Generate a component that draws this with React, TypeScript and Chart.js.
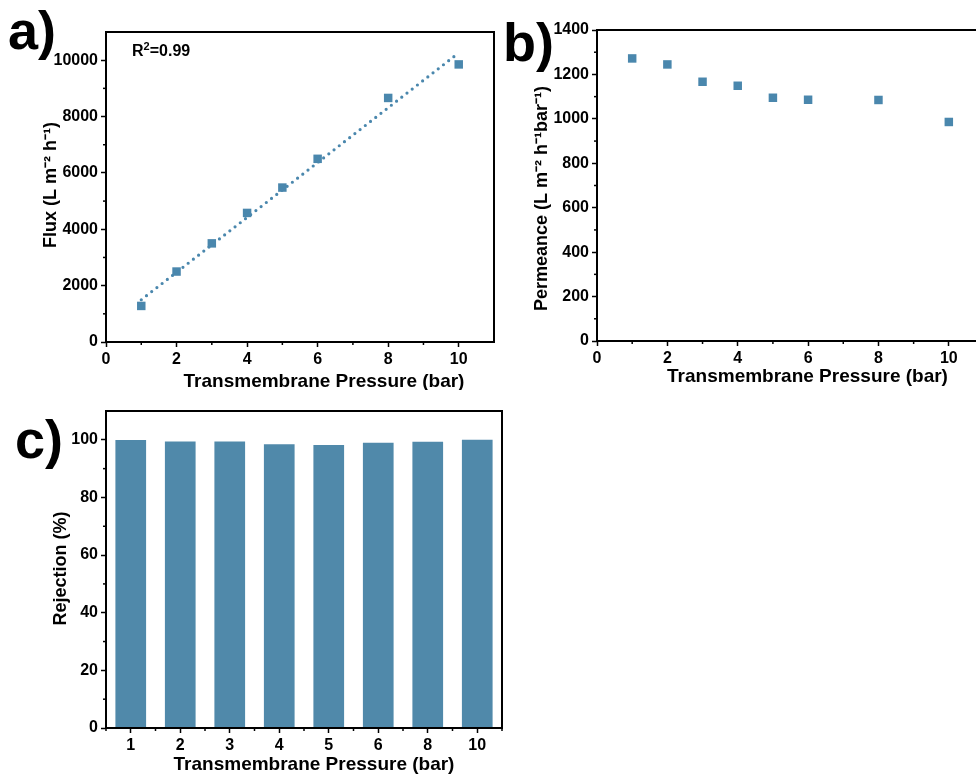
import React, { useEffect, useRef } from "react";
import { Chart, registerables } from "chart.js";

Chart.register(...registerables);

const FONT = "Arial, 'Liberation Sans', Helvetica, sans-serif";

// ---- Panel a: flux vs pressure ----
const pressures = [1, 2, 3, 4, 5, 6, 8, 10];
const fluxValues = [1280, 2500, 3500, 4580, 5480, 6500, 8660, 9850];
const fitPressures = [1, 10];
const fitFluxValues = [1500, 10260];
const fluxTicks = [0, 2000, 4000, 6000, 8000, 10000];
const fluxMinorTicks = [1000, 3000, 5000, 7000, 9000];
const pressureTicks = [0, 2, 4, 6, 8, 10];
const pressureMinorTicks = [1, 3, 5, 7, 9];

// ---- Panel b: permeance vs pressure ----
const permeanceValues = [1272, 1245, 1167, 1149, 1095, 1086, 1085, 986];
const permeanceTicks = [0, 200, 400, 600, 800, 1000, 1200, 1400];
const permeanceMinorTicks = [100, 300, 500, 700, 900, 1100, 1300];

// ---- Panel c: rejection ----
const rejectionLabels = ["1", "2", "3", "4", "5", "6", "8", "10"];
const rejectionValues = [99.9, 99.4, 99.4, 98.5, 98.2, 99.0, 99.3, 100.0];
const rejectionTicks = [0, 20, 40, 60, 80, 100];
const rejectionMinorTicks = [10, 30, 50, 70, 90];

const MARK = "#4a87ad";
const BAR = "#5089aa";
const X_TITLE = "Transmembrane Pressure (bar)";

const framePlugin = {
  id: "frame",
  afterDatasetsDraw(chart: any, _args: any, opts: any) {
    const { ctx, chartArea: ca, scales } = chart;
    ctx.save();
    ctx.strokeStyle = "#000";
    ctx.lineWidth = 2;
    ctx.strokeRect(ca.left, ca.top, ca.right - ca.left, ca.bottom - ca.top);
    ctx.lineWidth = 1.5;
    const seg = (x1: number, y1: number, x2: number, y2: number) => {
      ctx.beginPath();
      ctx.moveTo(x1, y1);
      ctx.lineTo(x2, y2);
      ctx.stroke();
    };
    (opts.yMinor || []).forEach((v: number) => {
      const py = scales.y.getPixelForValue(v);
      seg(ca.left - 3, py, ca.left, py);
    });
    (opts.xMinor || []).forEach((v: number) => {
      const px = scales.x.getPixelForValue(v);
      seg(px, ca.bottom, px, ca.bottom + 3);
    });
    if (opts.xMinorBetween) {
      const n = scales.x.ticks.length;
      for (let i = 0; i <= n; i++) {
        const px = scales.x.getPixelForValue(i - 0.5);
        seg(px, ca.bottom, px, ca.bottom + 3);
      }
    }
    ctx.fillStyle = "#000";
    ctx.textAlign = "center";
    ctx.textBaseline = "middle";
    if (opts.xTitle) {
      ctx.font = `bold 19px ${FONT}`;
      ctx.fillText(opts.xTitle.text, (ca.left + ca.right) / 2 + opts.xTitle.dx, ca.bottom + opts.xTitle.dy);
    }
    if (opts.yTitle) {
      ctx.save();
      ctx.font = `bold 18px ${FONT}`;
      ctx.translate(opts.yTitle.x, (ca.top + ca.bottom) / 2 + opts.yTitle.dy);
      ctx.rotate(-Math.PI / 2);
      ctx.fillText(opts.yTitle.text, 0, 0);
      ctx.restore();
    }
    ctx.restore();
  },
};

const tickFont = { family: FONT, size: 16, weight: "bold" as const };

function grid() {
  return {
    display: true,
    drawOnChartArea: false,
    drawTicks: true,
    tickLength: 5,
    tickWidth: 1.5,
    tickColor: "#000",
  };
}

function fixedTicks(values: number[]) {
  return (s: any) => {
    s.ticks = values.map((v) => ({ value: v }));
  };
}

function yAxis(min: number, max: number, tickValues: number[], width: number) {
  return {
    type: "linear",
    min,
    max,
    grid: grid(),
    border: { display: false },
    ticks: { color: "#000", font: tickFont, padding: 3, callback: (v: any) => String(v) },
    afterBuildTicks: fixedTicks(tickValues),
    afterFit: (s: any) => {
      s.width = width;
    },
  };
}

function xLinear(height: number) {
  return {
    type: "linear",
    min: 0,
    max: 11,
    grid: grid(),
    border: { display: false },
    ticks: { color: "#000", font: tickFont, padding: 3, callback: (v: any) => String(v) },
    afterBuildTicks: fixedTicks(pressureTicks),
    afterFit: (s: any) => {
      s.height = height;
    },
  };
}

function makeA(): any {
  return {
    type: "scatter",
    data: {
      datasets: [
        {
          data: pressures.map((p, i) => ({ x: p, y: fluxValues[i] })),
          pointStyle: "rect",
          pointRadius: 6,
          backgroundColor: MARK,
          borderColor: MARK,
          borderWidth: 0,
          showLine: false,
          order: 1,
        },
        {
          data: fitPressures.map((p, i) => ({ x: p, y: fitFluxValues[i] })),
          showLine: true,
          borderColor: MARK,
          borderWidth: 3.2,
          borderDash: [0, 6.6],
          borderCapStyle: "round",
          pointRadius: 0,
          order: 2,
        },
      ],
    },
    options: {
      responsive: false,
      animation: false,
      devicePixelRatio: 1,
      layout: { padding: { left: 0, top: 32, right: 6, bottom: 0 } },
      plugins: {
        legend: { display: false },
        tooltip: { enabled: false },
        frame: {
          yMinor: fluxMinorTicks,
          xMinor: pressureMinorTicks,
          xTitle: { text: X_TITLE, dx: 24, dy: 40 },
          yTitle: { text: "Flux (L m⁻² h⁻¹)", x: 51.5, dy: -2 },
        },
      },
      scales: {
        x: xLinear(48),
        y: yAxis(0, 11000, fluxTicks, 106),
      },
    },
    plugins: [framePlugin],
  };
}

function makeB(): any {
  return {
    type: "scatter",
    data: {
      datasets: [
        {
          data: pressures.map((p, i) => ({ x: p, y: permeanceValues[i] })),
          pointStyle: "rect",
          pointRadius: 6,
          backgroundColor: MARK,
          borderColor: MARK,
          borderWidth: 0,
          showLine: false,
        },
      ],
    },
    options: {
      responsive: false,
      animation: false,
      devicePixelRatio: 1,
      layout: { padding: { left: 0, top: 30, right: 16, bottom: 0 } },
      plugins: {
        legend: { display: false },
        tooltip: { enabled: false },
        frame: {
          yMinor: permeanceMinorTicks,
          xMinor: pressureMinorTicks,
          xTitle: { text: X_TITLE, dx: 17, dy: 36 },
          yTitle: { text: "Permeance (L m⁻² h⁻¹bar⁻¹)", x: 42, dy: 13 },
        },
      },
      scales: {
        x: xLinear(49),
        y: yAxis(0, 1400, permeanceTicks, 97),
      },
    },
    plugins: [framePlugin],
  };
}

function makeC(): any {
  return {
    type: "bar",
    data: {
      labels: rejectionLabels,
      datasets: [
        {
          data: rejectionValues,
          backgroundColor: BAR,
          borderWidth: 0,
          barPercentage: 0.62,
          categoryPercentage: 1,
        },
      ],
    },
    options: {
      responsive: false,
      animation: false,
      devicePixelRatio: 1,
      layout: { padding: { left: 0, top: 16, right: 8, bottom: 0 } },
      plugins: {
        legend: { display: false },
        tooltip: { enabled: false },
        frame: {
          yMinor: rejectionMinorTicks,
          xMinorBetween: true,
          xTitle: { text: X_TITLE, dx: 10, dy: 37 },
          yTitle: { text: "Rejection (%)", x: 61, dy: -1 },
        },
      },
      scales: {
        x: {
          type: "category",
          offset: true,
          grid: { ...grid(), offset: false },
          border: { display: false },
          ticks: { color: "#000", font: tickFont, padding: 3 },
          afterFit: (s: any) => {
            s.height = 48;
          },
        },
        y: yAxis(0, 110, rejectionTicks, 106),
      },
    },
    plugins: [framePlugin],
  };
}

function ChartBox(props: { left: number; top: number; width: number; height: number; make: () => any }) {
  const ref = useRef<HTMLCanvasElement>(null);
  useEffect(() => {
    const chart = new Chart(ref.current as HTMLCanvasElement, props.make());
    return () => chart.destroy();
  }, []);
  return (
    <canvas
      ref={ref}
      width={props.width}
      height={props.height}
      style={{ position: "absolute", left: props.left, top: props.top, width: props.width, height: props.height }}
    />
  );
}

const panelLabel = (left: number, top: number): React.CSSProperties => ({
  position: "absolute",
  left,
  top,
  fontFamily: FONT,
  fontWeight: "bold",
  fontSize: 54,
  lineHeight: 1,
  color: "#000",
  whiteSpace: "nowrap",
});

export default function App() {
  return (
    <div
      style={{
        position: "absolute",
        left: 0,
        top: 0,
        width: 976,
        height: 776,
        overflow: "hidden",
        background: "#fff",
      }}
    >
      <ChartBox left={0} top={0} width={500} height={390} make={makeA} />
      <ChartBox left={500} top={0} width={500} height={390} make={makeB} />
      <ChartBox left={0} top={395} width={510} height={381} make={makeC} />
      <div style={panelLabel(8, 3)}>a)</div>
      <div style={panelLabel(503, 15)}>b)</div>
      <div style={panelLabel(15, 412)}>c)</div>
      <div
        style={{
          position: "absolute",
          left: 132,
          top: 43,
          fontFamily: FONT,
          fontWeight: "bold",
          fontSize: 16,
          lineHeight: 1,
          color: "#000",
          whiteSpace: "nowrap",
        }}
      >
        R<sup style={{ fontSize: 11, verticalAlign: "6px", lineHeight: 0 }}>2</sup>=0.99
      </div>
    </div>
  );
}
